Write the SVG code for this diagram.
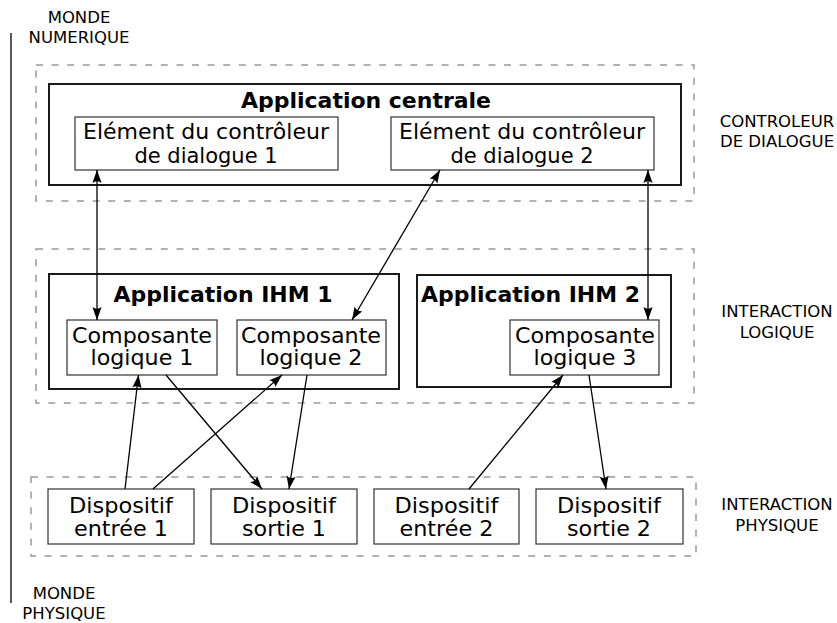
<svg xmlns="http://www.w3.org/2000/svg" width="837" height="623" viewBox="0 0 837 623">
<style>
  .zone { fill: none; stroke: #999999; stroke-width: 1.5; stroke-dasharray: 7 8.6; }
  .app { fill: #ffffff; stroke: #1a1a1a; stroke-width: 2; }
  .box { fill: #ffffff; stroke: #333333; stroke-width: 1.2; }
  .t { font-family: "DejaVu Sans", "Liberation Sans", sans-serif; font-size: 21px; fill: #000000; text-anchor: middle; }
  .tb { font-family: "DejaVu Sans", "Liberation Sans", sans-serif; font-size: 21px; font-weight: bold; fill: #000000; text-anchor: middle; }
  .side { font-family: "DejaVu Sans", "Liberation Sans", sans-serif; font-size: 16.5px; fill: #000000; text-anchor: middle; }
  .conn { fill: none; stroke: #000000; stroke-width: 1.3; }
</style>
<defs>
  <marker id="arr" viewBox="-14 -6 16 12" refX="0" refY="0" markerWidth="16" markerHeight="12" markerUnits="userSpaceOnUse" orient="auto-start-reverse">
    <path d="M0,0 L-13,-4.6 Q-9.5,0 -13,4.6 Z" fill="#000000"/>
  </marker>
</defs>
<rect width="837" height="623" fill="#ffffff"/>

<g id="world-axis">
  <line x1="11" y1="33" x2="11" y2="603" stroke="#000000" stroke-width="1.3"/>
  <text class="side" x="79" y="23">MONDE</text>
  <text class="side" x="79" y="43">NUMERIQUE</text>
  <text class="side" x="64" y="599">MONDE</text>
  <text class="side" x="64" y="619">PHYSIQUE</text>
</g>

<g id="layer-labels">
  <text class="side" x="777" y="127">CONTROLEUR</text>
  <text class="side" x="777" y="147">DE DIALOGUE</text>
  <text class="side" x="777" y="317">INTERACTION</text>
  <text class="side" x="777" y="338">LOGIQUE</text>
  <text class="side" x="777" y="510">INTERACTION</text>
  <text class="side" x="777" y="531">PHYSIQUE</text>
</g>

<g id="zones">
  <rect class="zone" x="36" y="65" width="658" height="136"/>
  <rect class="zone" x="36" y="249" width="658" height="154"/>
  <rect class="zone" x="31" y="477" width="665" height="79"/>
</g>

<g id="app-centrale">
  <rect class="app" x="49" y="84" width="632" height="101"/>
  <text class="tb" x="366" y="108" textLength="250" lengthAdjust="spacingAndGlyphs">Application centrale</text>
</g>
<g id="element-1">
  <rect class="box" x="75" y="117" width="263" height="53"/>
  <text class="t" x="206" y="139" textLength="246" lengthAdjust="spacingAndGlyphs">Elément du contrôleur</text>
  <text class="t" x="206" y="162.5">de dialogue 1</text>
</g>
<g id="element-2">
  <rect class="box" x="391" y="117" width="263" height="53"/>
  <text class="t" x="522" y="139" textLength="246" lengthAdjust="spacingAndGlyphs">Elément du contrôleur</text>
  <text class="t" x="522" y="162.5">de dialogue 2</text>
</g>

<g id="app-ihm-1">
  <rect class="app" x="49" y="274" width="350" height="115"/>
  <text class="tb" x="223" y="302" textLength="219" lengthAdjust="spacingAndGlyphs">Application IHM 1</text>
</g>
<g id="app-ihm-2">
  <rect class="app" x="417" y="275" width="254" height="112"/>
  <text class="tb" x="530.5" y="301.5" textLength="219" lengthAdjust="spacingAndGlyphs">Application IHM 2</text>
</g>
<g id="composante-1">
  <rect class="box" x="67" y="320" width="150" height="55"/>
  <text class="t" x="142" y="342.5" textLength="140" lengthAdjust="spacingAndGlyphs">Composante</text>
  <text class="t" x="142" y="364.5" textLength="103" lengthAdjust="spacingAndGlyphs">logique 1</text>
</g>
<g id="composante-2">
  <rect class="box" x="237" y="320" width="149" height="55"/>
  <text class="t" x="311" y="342.5" textLength="140" lengthAdjust="spacingAndGlyphs">Composante</text>
  <text class="t" x="311" y="364.5" textLength="103" lengthAdjust="spacingAndGlyphs">logique 2</text>
</g>
<g id="composante-3">
  <rect class="box" x="510" y="320" width="149" height="55"/>
  <text class="t" x="585" y="342.5" textLength="140" lengthAdjust="spacingAndGlyphs">Composante</text>
  <text class="t" x="585" y="364.5" textLength="103" lengthAdjust="spacingAndGlyphs">logique 3</text>
</g>

<g id="dispositif-entree-1">
  <rect class="box" x="48" y="489" width="146" height="55"/>
  <text class="t" x="121" y="513" textLength="104" lengthAdjust="spacingAndGlyphs">Dispositif</text>
  <text class="t" x="121" y="536" textLength="94" lengthAdjust="spacingAndGlyphs">entrée 1</text>
</g>
<g id="dispositif-sortie-1">
  <rect class="box" x="211" y="489" width="146" height="55"/>
  <text class="t" x="284" y="513" textLength="104" lengthAdjust="spacingAndGlyphs">Dispositif</text>
  <text class="t" x="284" y="536" textLength="84" lengthAdjust="spacingAndGlyphs">sortie 1</text>
</g>
<g id="dispositif-entree-2">
  <rect class="box" x="374" y="489" width="145" height="55"/>
  <text class="t" x="446.5" y="513" textLength="104" lengthAdjust="spacingAndGlyphs">Dispositif</text>
  <text class="t" x="446.5" y="536" textLength="94" lengthAdjust="spacingAndGlyphs">entrée 2</text>
</g>
<g id="dispositif-sortie-2">
  <rect class="box" x="536" y="489" width="147" height="55"/>
  <text class="t" x="609" y="513" textLength="104" lengthAdjust="spacingAndGlyphs">Dispositif</text>
  <text class="t" x="609" y="536" textLength="84" lengthAdjust="spacingAndGlyphs">sortie 2</text>
</g>

<g id="connectors">
  <line class="conn" x1="97" y1="170" x2="97" y2="320" marker-start="url(#arr)" marker-end="url(#arr)"/>
  <line class="conn" x1="440" y1="170" x2="352" y2="320" marker-start="url(#arr)" marker-end="url(#arr)"/>
  <line class="conn" x1="648" y1="170" x2="648" y2="320" marker-start="url(#arr)" marker-end="url(#arr)"/>
  <line class="conn" x1="125" y1="489" x2="138.5" y2="375" marker-end="url(#arr)"/>
  <line class="conn" x1="153" y1="489" x2="282" y2="375" marker-end="url(#arr)"/>
  <line class="conn" x1="166" y1="375" x2="262" y2="489" marker-end="url(#arr)"/>
  <line class="conn" x1="307" y1="375" x2="289" y2="489" marker-end="url(#arr)"/>
  <line class="conn" x1="469" y1="489" x2="563" y2="375" marker-end="url(#arr)"/>
  <line class="conn" x1="589" y1="375" x2="606" y2="489" marker-end="url(#arr)"/>
</g>
</svg>
